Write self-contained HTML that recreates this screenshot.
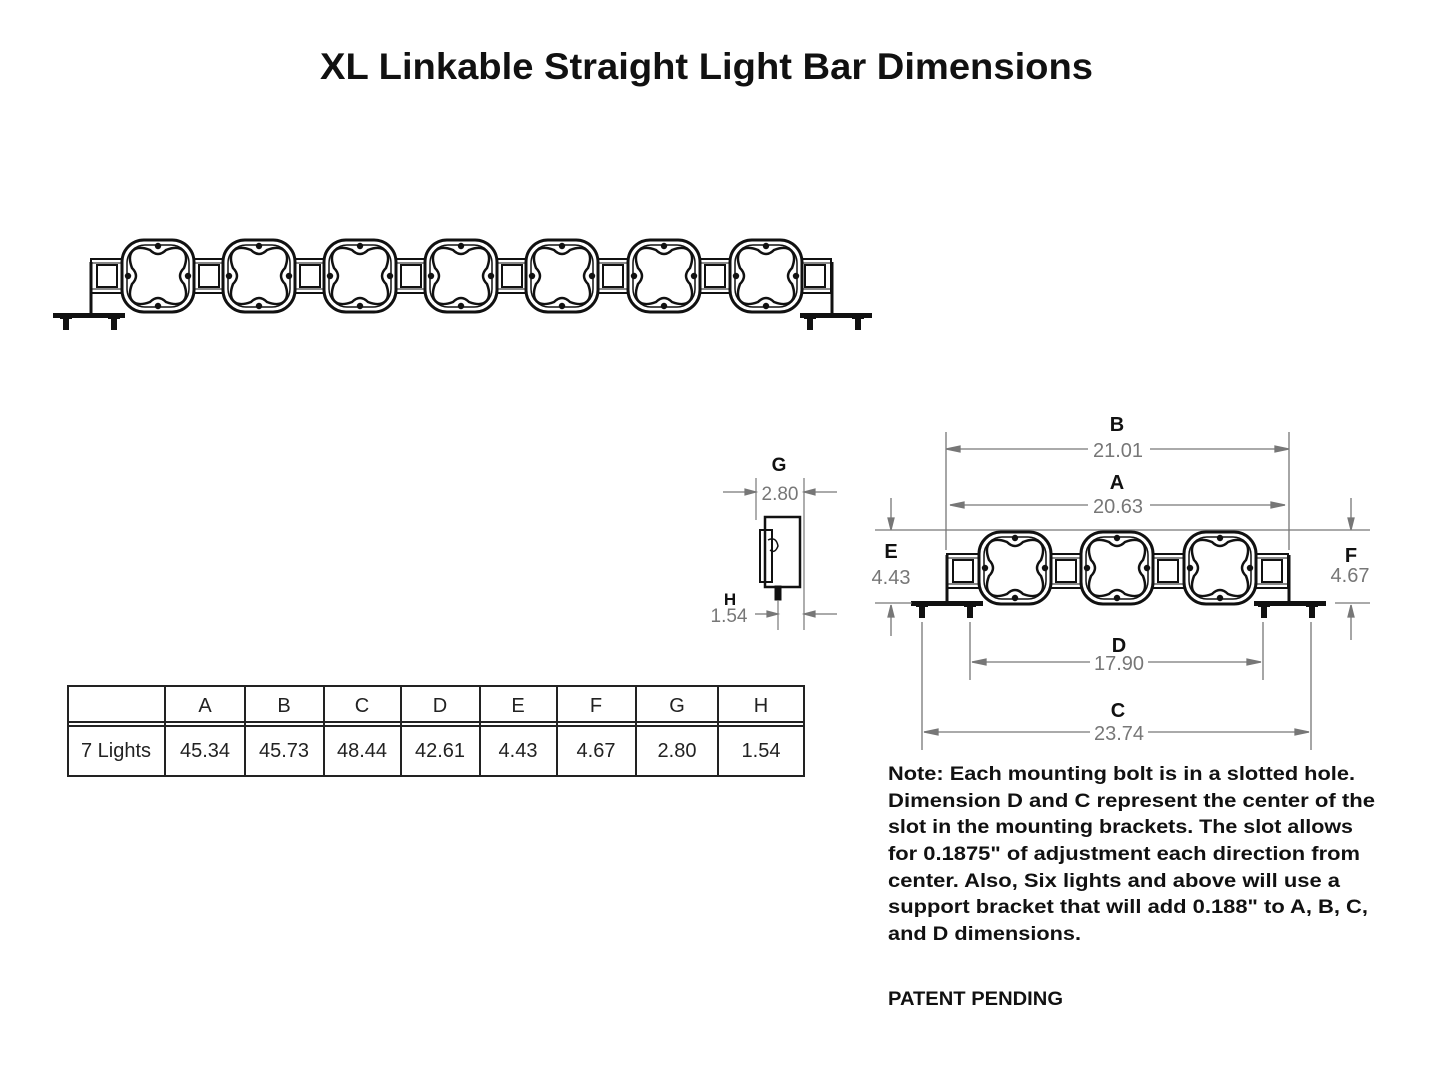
<!DOCTYPE html>
<html><head><meta charset="utf-8"><style>
html,body{margin:0;padding:0;background:#fff;}
body{width:1445px;height:1066px;position:relative;overflow:hidden;font-family:"Liberation Sans",sans-serif;}
svg{position:absolute;left:0;top:0;}
</style></head><body>
<svg width="1445" height="1066" viewBox="0 0 1445 1066" xmlns="http://www.w3.org/2000/svg">
<defs>
  <g id="light">
    <rect x="-36" y="-36" width="72" height="72" rx="22" fill="#fff" stroke="#111" stroke-width="3"/>
    <rect x="-31" y="-31" width="62" height="62" rx="18" fill="none" stroke="#111" stroke-width="1.5"/>
    <path d="M -8,-26 Q 0,-18 8,-26 C 24,-32 32,-24 26,-8 Q 18,0 26,8 C 32,24 24,32 8,26 Q 0,18 -8,26 C -24,32 -32,24 -26,8 Q -18,0 -26,-8 C -32,-24 -24,-32 -8,-26 Z" fill="#fff" stroke="#111" stroke-width="2.5"/>
    <circle cx="0" cy="-30" r="3.2" fill="#111"/><circle cx="0" cy="30" r="3.2" fill="#111"/>
    <circle cx="-30" cy="0" r="3.2" fill="#111"/><circle cx="30" cy="0" r="3.2" fill="#111"/>
  </g>
  <g id="conn">
    <rect x="-16" y="-17" width="32" height="34" fill="#fff" stroke="#111" stroke-width="2"/>
    <rect x="-10" y="-11" width="20" height="22" fill="none" stroke="#111" stroke-width="2"/>
    <line x1="-16" y1="-13" x2="16" y2="-13" stroke="#111" stroke-width="1"/>
    <line x1="-16" y1="13" x2="16" y2="13" stroke="#111" stroke-width="1"/>
  </g>
  <g id="bolt">
    <rect x="-3" y="0" width="6" height="12" fill="#111"/>
    <rect x="-6" y="-4" width="12" height="5" fill="#111"/>
  </g>
</defs>

<text x="320" y="79" textLength="773" lengthAdjust="spacingAndGlyphs" font-size="37" font-weight="bold" fill="#111">XL Linkable Straight Light Bar Dimensions</text>

<g>
  <use href="#conn" x="107" y="276"/>
  <use href="#conn" x="209" y="276"/><use href="#conn" x="310" y="276"/><use href="#conn" x="411" y="276"/>
  <use href="#conn" x="512" y="276"/><use href="#conn" x="613" y="276"/><use href="#conn" x="715" y="276"/>
  <use href="#conn" x="815" y="276"/>
  <use href="#light" x="158" y="276"/><use href="#light" x="259" y="276"/><use href="#light" x="360" y="276"/>
  <use href="#light" x="461" y="276"/><use href="#light" x="562" y="276"/><use href="#light" x="664" y="276"/>
  <use href="#light" x="766" y="276"/>
  <path d="M91,262 V313" stroke="#111" stroke-width="3" fill="none"/>
  <rect x="53" y="313" width="72" height="5" fill="#111"/>
  <use href="#bolt" x="66" y="318"/><use href="#bolt" x="114" y="318"/>
  <path d="M832,262 V313" stroke="#111" stroke-width="3" fill="none"/>
  <rect x="800" y="313" width="72" height="5" fill="#111"/>
  <use href="#bolt" x="810" y="318"/><use href="#bolt" x="858" y="318"/>
</g>

<g stroke="#111" fill="none">
  <rect x="765" y="517" width="35" height="70" fill="#fff" stroke-width="2.5"/>
  <rect x="760" y="530" width="12" height="52" stroke-width="2"/>
  <path d="M768,540 q8,-4 10,6 q-3,8 -8,4" stroke-width="1.5"/>
  <rect x="775" y="586" width="6" height="14" fill="#111"/>
</g>
<g stroke="#777" stroke-width="1.2" fill="#777">
  <line x1="756" y1="478" x2="756" y2="520"/><line x1="804" y1="478" x2="804" y2="630"/>
  <line x1="723" y1="492" x2="754" y2="492"/><polygon points="756,492 745,489 745,495"/>
  <line x1="806" y1="492" x2="837" y2="492"/><polygon points="804,492 815,489 815,495"/>
  <line x1="778" y1="600" x2="778" y2="630"/>
  <line x1="755" y1="614" x2="776" y2="614"/><polygon points="778,614 767,611 767,617"/>
  <line x1="806" y1="614" x2="837" y2="614"/><polygon points="804,614 815,611 815,617"/>
</g>
<text x="779" y="471" text-anchor="middle" font-size="19" font-weight="bold" fill="#111">G</text>
<text x="780" y="500" text-anchor="middle" font-size="19" fill="#777">2.80</text>
<text x="730" y="605" text-anchor="middle" font-size="17" font-weight="bold" fill="#111">H</text>
<text x="729" y="622" text-anchor="middle" font-size="19" fill="#777">1.54</text>

<g>
  <use href="#conn" x="963" y="571"/><use href="#conn" x="1066" y="571"/><use href="#conn" x="1168" y="571"/><use href="#conn" x="1272" y="571"/>
  <use href="#light" x="1015" y="568"/><use href="#light" x="1117" y="568"/><use href="#light" x="1220" y="568"/>
  <path d="M947,555 V601" stroke="#111" stroke-width="3"/>
  <rect x="911" y="601" width="72" height="5" fill="#111"/>
  <use href="#bolt" x="922" y="606"/><use href="#bolt" x="970" y="606"/>
  <path d="M1289,555 V601" stroke="#111" stroke-width="3"/>
  <rect x="1254" y="601" width="72" height="5" fill="#111"/>
  <use href="#bolt" x="1264" y="606"/><use href="#bolt" x="1312" y="606"/>
</g>
<g stroke="#777" stroke-width="1.3" fill="#777">
  <line x1="946" y1="432" x2="946" y2="550"/><line x1="1289" y1="432" x2="1289" y2="550"/>
  <line x1="948" y1="449" x2="1088" y2="449"/><line x1="1150" y1="449" x2="1287" y2="449"/>
  <polygon points="946,449 960,446 960,452"/><polygon points="1289,449 1275,446 1275,452"/>
  <line x1="950" y1="505" x2="1088" y2="505"/><line x1="1150" y1="505" x2="1285" y2="505"/>
  <polygon points="950,505 964,502 964,508"/><polygon points="1285,505 1271,502 1271,508"/>
  <line x1="875" y1="530" x2="1370" y2="530"/>
  <line x1="875" y1="603" x2="912" y2="603"/><line x1="1335" y1="603" x2="1370" y2="603"/>
  <line x1="891" y1="498" x2="891" y2="528"/><polygon points="891,530 888,518 894,518"/>
  <line x1="891" y1="605" x2="891" y2="636"/><polygon points="891,605 888,617 894,617"/>
  <line x1="1351" y1="498" x2="1351" y2="528"/><polygon points="1351,530 1348,518 1354,518"/>
  <line x1="1351" y1="605" x2="1351" y2="640"/><polygon points="1351,605 1348,617 1354,617"/>
  <line x1="970" y1="622" x2="970" y2="680"/><line x1="1263" y1="622" x2="1263" y2="680"/>
  <line x1="972" y1="662" x2="1090" y2="662"/><line x1="1148" y1="662" x2="1261" y2="662"/>
  <polygon points="972,662 986,659 986,665"/><polygon points="1261,662 1247,659 1247,665"/>
  <line x1="922" y1="622" x2="922" y2="750"/><line x1="1311" y1="622" x2="1311" y2="750"/>
  <line x1="924" y1="732" x2="1090" y2="732"/><line x1="1148" y1="732" x2="1309" y2="732"/>
  <polygon points="924,732 938,729 938,735"/><polygon points="1309,732 1295,729 1295,735"/>
</g>
<g font-size="20" text-anchor="middle">
  <text x="1117" y="431" font-weight="bold" fill="#111">B</text>
  <text x="1118" y="457" fill="#777">21.01</text>
  <text x="1117" y="489" font-weight="bold" fill="#111">A</text>
  <text x="1118" y="513" fill="#777">20.63</text>
  <text x="891" y="558" font-weight="bold" fill="#111">E</text>
  <text x="891" y="584" fill="#777">4.43</text>
  <text x="1351" y="562" font-weight="bold" fill="#111">F</text>
  <text x="1350" y="582" fill="#777">4.67</text>
  <text x="1119" y="652" font-weight="bold" fill="#111">D</text>
  <text x="1119" y="670" fill="#777">17.90</text>
  <text x="1118" y="717" font-weight="bold" fill="#111">C</text>
  <text x="1119" y="740" fill="#777">23.74</text>
</g>

<g stroke="#222" stroke-width="2" fill="none">
  <rect x="68" y="686" width="736" height="90"/>
  <line x1="68" y1="722" x2="804" y2="722"/><line x1="68" y1="726" x2="804" y2="726"/>
  <line x1="165" y1="686" x2="165" y2="776"/><line x1="245" y1="686" x2="245" y2="776"/>
  <line x1="324" y1="686" x2="324" y2="776"/><line x1="401" y1="686" x2="401" y2="776"/>
  <line x1="480" y1="686" x2="480" y2="776"/><line x1="557" y1="686" x2="557" y2="776"/>
  <line x1="636" y1="686" x2="636" y2="776"/><line x1="718" y1="686" x2="718" y2="776"/>
</g>
<g font-size="20" fill="#222" text-anchor="middle">
  <text x="205" y="712">A</text><text x="284" y="712">B</text><text x="362" y="712">C</text><text x="440" y="712">D</text>
  <text x="518" y="712">E</text><text x="596" y="712">F</text><text x="677" y="712">G</text><text x="761" y="712">H</text>
  <text x="116" y="757">7 Lights</text>
  <text x="205" y="757">45.34</text><text x="284" y="757">45.73</text><text x="362" y="757">48.44</text><text x="440" y="757">42.61</text>
  <text x="518" y="757">4.43</text><text x="596" y="757">4.67</text><text x="677" y="757">2.80</text><text x="761" y="757">1.54</text>
</g>

<g font-size="19" font-weight="bold" fill="#111" lengthAdjust="spacingAndGlyphs">
  <text x="888" y="780" textLength="467" lengthAdjust="spacingAndGlyphs">Note: Each mounting bolt is in a slotted hole.</text>
  <text x="888" y="807" textLength="487" lengthAdjust="spacingAndGlyphs">Dimension D and C represent the center of the</text>
  <text x="888" y="833" textLength="465" lengthAdjust="spacingAndGlyphs">slot in the mounting brackets. The slot allows</text>
  <text x="888" y="860" textLength="472" lengthAdjust="spacingAndGlyphs">for 0.1875" of adjustment each direction from</text>
  <text x="888" y="887" textLength="452" lengthAdjust="spacingAndGlyphs">center. Also, Six lights and above will use a</text>
  <text x="888" y="913" textLength="480" lengthAdjust="spacingAndGlyphs">support bracket that will add 0.188" to A, B, C,</text>
  <text x="888" y="940" textLength="193" lengthAdjust="spacingAndGlyphs">and D dimensions.</text>
  <text x="888" y="1005" textLength="175" lengthAdjust="spacingAndGlyphs">PATENT PENDING</text>
</g>
</svg>
</body></html>
